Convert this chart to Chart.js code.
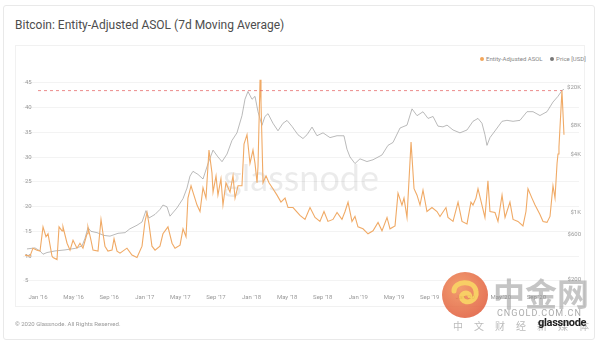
<!DOCTYPE html>
<html>
<head>
<meta charset="utf-8">
<title>Bitcoin: Entity-Adjusted ASOL</title>
<script src="https://cdn.jsdelivr.net/npm/chart.js@4.4.0/dist/chart.umd.min.js"></script>
<style>
    html, body { margin: 0; padding: 0; background: #fff; }
    body { width: 600px; height: 345px; position: relative; overflow: hidden; font-family: Roboto, "Open Sans", sans-serif; }
    .card { position: absolute; left: 3px; top: 5px; width: 592px; height: 335px; border: 1px solid #e9e9e9; border-radius: 3px; box-sizing: border-box; }
    .panel { position: absolute; left: 15px; top: 45px; width: 570px; height: 262px; border: 1px solid #f1f1f1; box-sizing: border-box; }
    .title { position: absolute; left: 15px; top: 18px; font-size: 12px; color: #4d4d4d; white-space: nowrap; }
    .legend { position: absolute; left: 480px; top: 55px; font-size: 6px; color: #888; white-space: nowrap; }
    .legend .dot { display: inline-block; width: 4px; height: 4px; border-radius: 50%; margin: 0 2px 0 0; vertical-align: middle; }
    .legend .item { margin-right: 6px; }
    .footer { position: absolute; left: 15px; top: 320px; font-size: 6px; color: #999; white-space: nowrap; }
    #chart { position: absolute; left: 0; top: 0; }
    .brand { position: absolute; left: 538px; top: 316px; font-size: 11px; font-weight: bold; color: #222; letter-spacing: -0.3px; z-index: 3; }
    .cg-logo { position: absolute; left: 442px; top: 272px; opacity: 0.85; z-index: 2; }
    .cg-name { position: absolute; left: 493px; top: 274px; font-family: "Noto Sans CJK SC", sans-serif; font-size: 32px; font-weight: bold; line-height: 36px; color: rgba(140, 140, 140, 0.5); z-index: 2; white-space: nowrap; }
    .cg-url { position: absolute; left: 497px; top: 308px; font-size: 9px; letter-spacing: 1px; color: rgba(150, 150, 150, 0.8); z-index: 2; white-space: nowrap; }
    .cg-tag { position: absolute; left: 453px; top: 318px; font-family: "Noto Sans CJK SC", sans-serif; font-size: 10px; letter-spacing: 11px; color: rgba(170, 170, 170, 0.8); z-index: 2; white-space: nowrap; }
</style>
</head>
<body>
<div class="card"></div>
<div class="panel"></div>
<div class="title">Bitcoin: Entity-Adjusted ASOL (7d Moving Average)</div>
<div class="legend">
    <span class="item"><span class="dot" style="background:#f2a65a"></span>Entity-Adjusted ASOL</span>
    <span class="item"><span class="dot" style="background:#777"></span>Price [USD]</span>
</div>
<canvas id="chart" width="600" height="345"></canvas>
<div class="footer">© 2020 Glassnode. All Rights Reserved.</div>

<svg class="cg-logo" width="46" height="46" viewBox="0 0 46 46">
    <defs>
        <radialGradient id="cgFill" cx="40%" cy="35%" r="70%">
            <stop offset="0" stop-color="#f08c55"/>
            <stop offset="1" stop-color="#e05a3a"/>
        </radialGradient>
    </defs>
    <circle cx="23" cy="23" r="23" fill="url(#cgFill)"/>
    <path d="M12 19 C12 9, 32 7, 34 19 C36 29, 24 33, 20 27 C17 22, 26 18, 28 24" fill="none" stroke="#f7c64a" stroke-width="5" stroke-linecap="round"/>
</svg>
<div class="cg-name">中金网</div>
<div class="cg-url">CNGOLD.COM.CN</div>
<div class="cg-tag">中文财经新媒体</div>
<div class="brand">glassnode</div>

<script>
// time is in decimal years
const asolYears = [
    2015.878, 2015.925, 2015.953, 2015.991, 2016.019, 2016.047, 2016.075, 2016.094, 2016.131, 2016.141,
    2016.178, 2016.197, 2016.225, 2016.234, 2016.272, 2016.300, 2016.328, 2016.365, 2016.393, 2016.421,
    2016.459, 2016.468, 2016.496, 2016.515, 2016.562, 2016.590, 2016.609, 2016.627, 2016.655, 2016.693,
    2016.712, 2016.740, 2016.768, 2016.833, 2016.880, 2016.927, 2016.974, 2017.002, 2017.021, 2017.039,
    2017.067, 2017.096, 2017.142, 2017.170, 2017.217, 2017.255, 2017.283, 2017.330, 2017.358, 2017.386,
    2017.404, 2017.433, 2017.451, 2017.489, 2017.517, 2017.545, 2017.573, 2017.601, 2017.629, 2017.639,
    2017.667, 2017.685, 2017.713, 2017.732, 2017.760, 2017.798, 2017.826, 2017.845, 2017.873, 2017.910,
    2017.929, 2017.957, 2017.985, 2018.013, 2018.032, 2018.051, 2018.060, 2018.079, 2018.088, 2018.107,
    2018.135, 2018.163, 2018.200, 2018.238, 2018.275, 2018.313, 2018.341, 2018.388, 2018.453, 2018.500,
    2018.547, 2018.594, 2018.640, 2018.678, 2018.715, 2018.762, 2018.800, 2018.846, 2018.875, 2018.903,
    2018.940, 2018.968, 2018.996, 2019.043, 2019.090, 2019.137, 2019.184, 2019.221, 2019.268, 2019.296,
    2019.343, 2019.371, 2019.408, 2019.427, 2019.455, 2019.493, 2019.521, 2019.549, 2019.577, 2019.605,
    2019.642, 2019.689, 2019.736, 2019.764, 2019.820, 2019.839, 2019.886, 2019.933, 2019.970, 2020.017,
    2020.054, 2020.073, 2020.101, 2020.120, 2020.157, 2020.185, 2020.213, 2020.232, 2020.279, 2020.307,
    2020.345, 2020.373, 2020.419, 2020.448, 2020.494, 2020.541, 2020.569, 2020.588, 2020.625, 2020.654,
    2020.700, 2020.729, 2020.766, 2020.794, 2020.822, 2020.841, 2020.860, 2020.869, 2020.878, 2020.906,
    2020.925
];
const asolValues = [
    10.2, 10.0, 11.6, 11.2, 11.0, 15.9, 13.9, 14.5, 10.0, 9.7,
    9.3, 15.9, 15.1, 15.9, 12.6, 11.2, 13.2, 11.6, 12.6, 11.6,
    14.5, 15.9, 13.2, 11.2, 11.0, 17.4, 14.5, 12.0, 11.0, 11.2,
    13.5, 11.0, 10.6, 11.6, 10.2, 9.7, 12.0, 17.0, 18.8, 16.5,
    12.0, 11.2, 12.0, 14.5, 15.9, 12.6, 11.6, 12.2, 15.5, 13.9,
    21.7, 24.2, 22.9, 20.3, 19.0, 23.8, 21.7, 31.4, 26.8, 22.9,
    26.2, 22.3, 25.6, 20.3, 24.8, 22.9, 26.2, 21.7, 24.2, 24.2,
    32.6, 34.5, 28.7, 31.4, 28.7, 24.8, 28.1, 45.6, 41.1, 24.8,
    26.2, 24.8, 23.6, 22.3, 20.9, 21.7, 19.8, 19.8, 18.2, 17.4,
    19.8, 17.8, 17.0, 19.0, 17.0, 17.4, 18.8, 17.4, 19.0, 20.9,
    17.0, 18.0, 15.9, 15.5, 14.5, 15.1, 16.8, 15.1, 17.8, 15.5,
    16.1, 22.7, 20.3, 21.7, 17.8, 33.0, 23.6, 22.3, 20.3, 23.3,
    19.0, 19.8, 19.0, 18.0, 19.8, 17.8, 17.0, 20.9, 17.0, 16.5,
    20.9, 20.3, 21.7, 23.6, 20.3, 17.8, 25.2, 19.0, 18.8, 17.0,
    22.3, 17.8, 20.9, 17.4, 17.0, 16.1, 19.0, 23.6, 21.7, 20.3,
    18.4, 17.0, 16.8, 18.0, 24.2, 21.7, 28.7, 30.6, 32.0, 43.4,
    34.5
];

const priceYears = [
    2015.897, 2015.972, 2016.019, 2016.047, 2016.084, 2016.159, 2016.253, 2016.346, 2016.412, 2016.440,
    2016.468, 2016.496, 2016.552, 2016.618, 2016.674, 2016.749, 2016.815, 2016.861, 2016.927, 2016.974,
    2017.011, 2017.039, 2017.096, 2017.142, 2017.170, 2017.208, 2017.236, 2017.301, 2017.358, 2017.395,
    2017.423, 2017.451, 2017.498, 2017.545, 2017.592, 2017.639, 2017.685, 2017.723, 2017.770, 2017.816,
    2017.863, 2017.910, 2017.938, 2017.966, 2018.004, 2018.032, 2018.060, 2018.097, 2018.125, 2018.154,
    2018.200, 2018.247, 2018.294, 2018.332, 2018.378, 2018.434, 2018.481, 2018.519, 2018.566, 2018.612,
    2018.669, 2018.734, 2018.800, 2018.865, 2018.893, 2018.921, 2018.968, 2019.015, 2019.080, 2019.137,
    2019.221, 2019.277, 2019.324, 2019.390, 2019.455, 2019.502, 2019.549, 2019.605, 2019.652, 2019.699,
    2019.745, 2019.792, 2019.830, 2019.886, 2019.951, 2020.017, 2020.073, 2020.120, 2020.157, 2020.185,
    2020.204, 2020.232, 2020.279, 2020.345, 2020.391, 2020.448, 2020.513, 2020.579, 2020.635, 2020.700,
    2020.766, 2020.822, 2020.869, 2020.906, 2020.925
];
const priceUsd = [
    420, 430, 400, 370, 385, 400, 410, 425, 450, 540,
    700, 640, 620, 580, 570, 610, 620, 680, 740, 800,
    1050, 880, 960, 1080, 1200, 1150, 920, 1120, 1400, 1800,
    2400, 2690, 2500, 2240, 3240, 4470, 3800, 3390, 4070, 5620,
    6760, 10200, 15100, 18200, 15100, 16200, 11200, 8100, 10000, 10700,
    8500, 7100, 8500, 9100, 7900, 6460, 5900, 6460, 7760, 6310,
    6760, 6030, 6310, 6300, 4570, 3800, 3240, 3630, 3400, 3550,
    3980, 5010, 5370, 7590, 8130, 12000, 10200, 11200, 9550, 10000,
    7940, 7800, 8130, 7240, 6760, 7240, 8910, 9550, 8510, 6460,
    5010, 6030, 7080, 8910, 9120, 8910, 9120, 11220, 11220, 10230,
    11220, 14130, 16220, 18620, 19200
];

// dashed reference at the latest ASOL high
const asolHighLevel = 43.4;
const asolHighFrom = 2016.0;
const asolHighTo = 2020.906;

const asolTicks = [5, 10, 15, 20, 25, 30, 35, 40, 45];
const priceTicks = [200, 600, 1000, 4000, 8000, 20000];
const priceTickLabels = ['$200', '$600', '$1K', '$4K', '$8K', '$20K'];
const xTickLabels = ["Jan '16", "May '16", "Sep '16", "Jan '17", "May '17", "Sep '17", "Jan '18", "May '18",
    "Sep '18", "Jan '19", "May '19", "Sep '19", "Jan '20", "May '20", "Sep '20"];

const toPoints = (xs, ys) => xs.map((x, i) => ({ x: x, y: ys[i] }));

// faint brand mark behind the lines
const watermark = {
    id: 'watermark',
    beforeDatasetsDraw(chart) {
        const { ctx, chartArea } = chart;
        ctx.save();
        ctx.font = '36px Lato, "Open Sans", sans-serif';
        ctx.fillStyle = 'rgba(0, 0, 0, 0.08)';
        ctx.textAlign = 'center';
        ctx.textBaseline = 'middle';
        ctx.fillText('glassnode', (chartArea.left + chartArea.right) / 2, (chartArea.top + chartArea.bottom) / 2);
        ctx.restore();
    }
};

const tickFont = { family: 'Roboto, sans-serif', size: 6 };

new Chart(document.getElementById('chart'), {
    type: 'line',
    data: {
        datasets: [
            {
                label: 'ATH',
                data: [{ x: asolHighFrom, y: asolHighLevel }, { x: asolHighTo, y: asolHighLevel }],
                yAxisID: 'y',
                borderColor: 'rgba(228, 100, 100, 0.75)',
                borderWidth: 1,
                borderDash: [3, 3],
                pointRadius: 0
            },
            {
                label: 'Entity-Adjusted ASOL',
                data: toPoints(asolYears, asolValues),
                yAxisID: 'y',
                borderColor: '#f0aa66',
                borderWidth: 1.1,
                pointRadius: 0,
                tension: 0
            },
            {
                label: 'Price [USD]',
                data: toPoints(priceYears, priceUsd),
                yAxisID: 'price',
                borderColor: '#9c9c9c',
                borderWidth: 0.7,
                pointRadius: 0,
                tension: 0
            }
        ]
    },
    options: {
        responsive: false,
        animation: false,
        layout: { padding: { left: 19, right: 17, top: 75, bottom: 41 } },
        plugins: {
            legend: { display: false },
            tooltip: { enabled: false }
        },
        scales: {
            x: {
                type: 'linear',
                min: 2015.8596,
                max: 2021.0656,
                grid: { display: false },
                border: { display: false },
                afterBuildTicks: axis => {
                    axis.ticks = xTickLabels.map((_, i) => ({ value: 2016 + i / 3 }));
                },
                ticks: {
                    autoSkip: false,
                    maxRotation: 0,
                    padding: 3,
                    color: '#999',
                    font: tickFont,
                    callback: (value, index) => xTickLabels[index]
                }
            },
            y: {
                position: 'left',
                min: 4.61,
                max: 46.55,
                border: { display: false },
                grid: { color: '#f3f3f3', drawTicks: false },
                afterBuildTicks: axis => {
                    axis.ticks = asolTicks.map(v => ({ value: v }));
                },
                ticks: { mirror: true, padding: 2, color: '#999', font: tickFont }
            },
            price: {
                type: 'logarithmic',
                position: 'right',
                min: 186.6,
                max: 27000,
                border: { display: false },
                grid: { display: false, drawTicks: false },
                afterBuildTicks: axis => {
                    axis.ticks = priceTicks.map(v => ({ value: v }));
                },
                ticks: {
                    mirror: true,
                    padding: 2,
                    color: '#999',
                    font: tickFont,
                    callback: value => priceTickLabels[priceTicks.indexOf(value)]
                }
            }
        }
    },
    plugins: [watermark]
});
</script>
</body>
</html>
